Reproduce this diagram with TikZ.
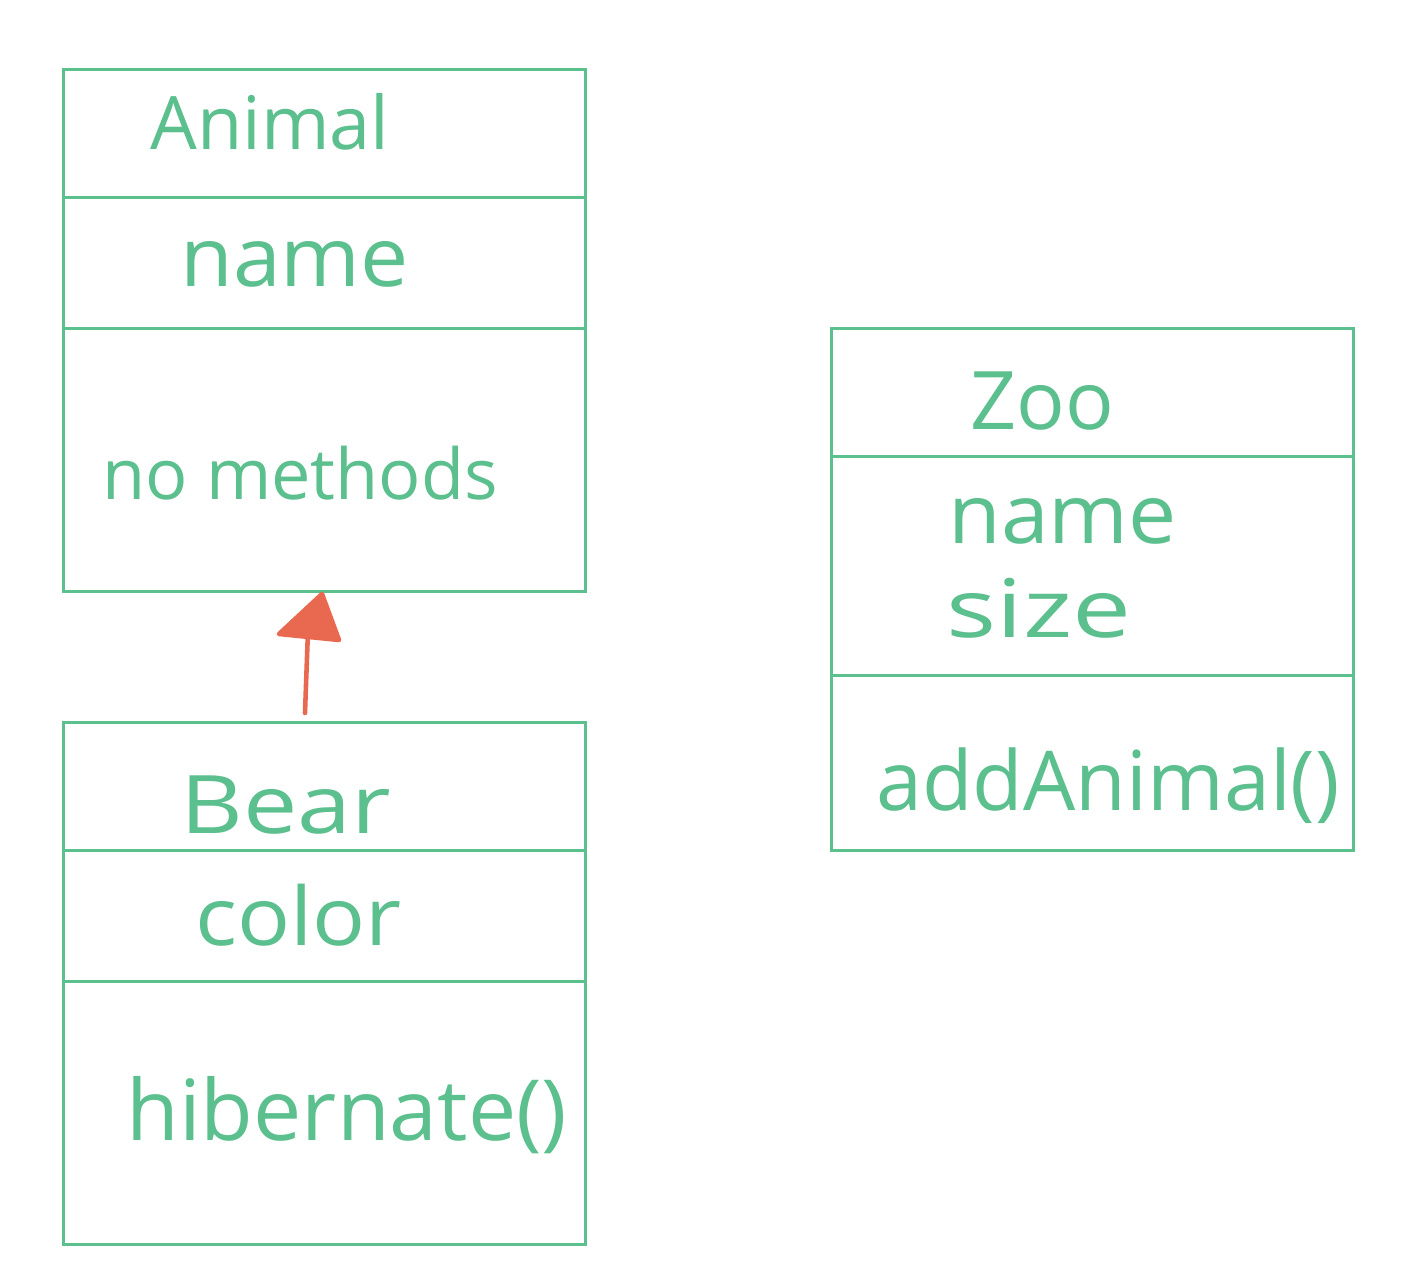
\documentclass[tikz,border=0pt]{standalone}
\usepackage{fontspec}
\setmainfont{Open Sans}
\usetikzlibrary{arrows.meta}
\definecolor{umlgreen}{HTML}{5BBF8E}
\definecolor{umlred}{HTML}{E8694F}
\begin{document}
\begin{tikzpicture}[x=0.02cm,y=-0.02cm,
  comp/.style={draw=umlgreen, line width=1.7pt, rectangle, anchor=north west, minimum width=10.44cm, inner sep=0pt},
  hand/.style={text=umlgreen, anchor=base west, inner sep=0pt, font=\fontsize{44}{50}\selectfont},
  inh/.style={draw=umlred, line width=2.6pt, line cap=round, line join=round},
  inhhead/.style={draw=umlred, fill=umlred, line width=2.6pt, line join=round}]
\useasboundingbox (0,0) rectangle (1404,1280);
% Animal
\node[comp, minimum height=2.56cm] (animalA) at (62,68) {};
\node[comp, minimum height=2.62cm] (animalB) at (62,196) {};
\node[comp, minimum height=5.26cm] (animalC) at (62,327) {};
% Bear
\node[comp, minimum height=2.56cm] (bearA) at (62,721) {};
\node[comp, minimum height=2.62cm] (bearB) at (62,849) {};
\node[comp, minimum height=5.26cm] (bearC) at (62,980) {};
% Zoo
\node[comp, minimum height=2.56cm] (zooA) at (830,327) {};
\node[comp, minimum height=4.38cm] (zooB) at (830,455) {};
\node[comp, minimum height=3.50cm] (zooC) at (830,674) {};
% texts
\node[hand, font=\fontsize{42}{50}\selectfont] (tAnimal) at (150,150) {Animal};
\node[hand, font=\fontsize{47}{50}\selectfont] (tName1) at (180,287) {\scalebox{1.04}[1]{name}};
\node[hand, font=\fontsize{40}{50}\selectfont] (tNoM) at (102,500) {no methods};
\node[hand, font=\fontsize{46}{50}\selectfont] (tBear) at (180,833) {\scalebox{1.2}[1]{Bear}};
\node[hand, font=\fontsize{46}{50}\selectfont] (tColor) at (195,945) {\scalebox{1.09}[1]{color}};
\node[hand, font=\fontsize{48}{50}\selectfont] (tHib) at (126,1140) {\scalebox{1.02}[1]{hibernate()}};
\node[hand, font=\fontsize{46}{50}\selectfont] (tZoo) at (970,430) {Zoo};
\node[hand, font=\fontsize{47}{50}\selectfont] (tName2) at (948,543) {\scalebox{1.04}[1]{name}};
\node[hand, font=\fontsize{46}{50}\selectfont] (tSize) at (946,638) {\scalebox{1.3}[1]{size}};
\node[hand, font=\fontsize{47}{50}\selectfont] (tAdd) at (876,810) {addAnimal()};
% inheritance arrow
\coordinate (tail) at (305,713);
\coordinate (base) at (308,630);
\coordinate (tip) at (322,594);
\coordinate (hl) at (279,634);
\coordinate (hr) at (339,640);
\draw[inh] (tail) -- (base);
\draw[inhhead] (hl) -- (tip) -- (hr) -- cycle;
\end{tikzpicture}
\end{document}
